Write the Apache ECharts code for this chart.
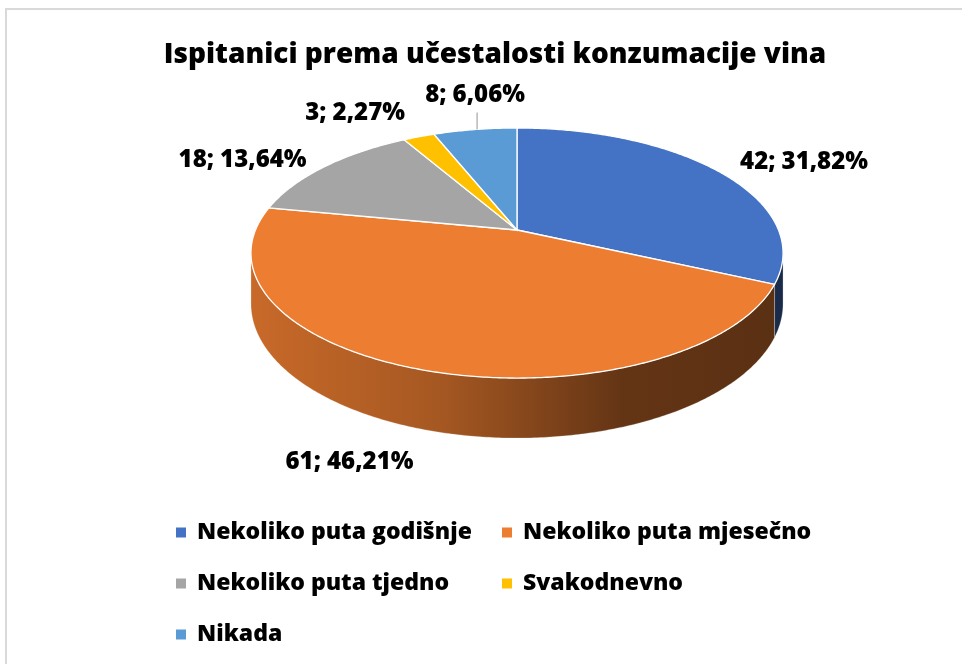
<!DOCTYPE html>
<html>
<head>
<meta charset="utf-8">
<script src="https://cdn.jsdelivr.net/npm/echarts@6/dist/echarts.min.js"></script>
<style>
  html, body { margin: 0; padding: 0; background: #fff; }
  #chart { width: 962px; height: 664px; }
</style>
</head>
<body>
<div id="chart"></div>
<script>
// podaci
const categories = ['Nekoliko puta godišnje', 'Nekoliko puta mjesečno', 'Nekoliko puta tjedno', 'Svakodnevno', 'Nikada'];
const counts = [42, 61, 18, 3, 8];
const colors = ['#4472c4', '#ed7d31', '#a5a5a5', '#ffc000', '#5b9bd5'];

const total = counts.reduce((a, b) => a + b, 0);

// geometrija 3D pite (Excel stil)
const CX = 517, CY = 230, RX = 261.5, RY = 120.8, PERSP = 0.184, DEPTH = 49;
const FONT = '"Open Sans", "Noto Sans", sans-serif';
const labelShift = [
  { dx: 23, dy: -8, align: 'left' },
  { dx: -7, dy: 33, align: 'right' },
  { dx: -18, dy: -7, align: 'right' },
  { dx: -14, dy: -24, align: 'right' },
  { dx: 0, dy: -34, align: 'center', leader: true }
];

function proj(t, r) {
  const u = Math.sin(t), v = -Math.cos(t);
  const s = 1 / (1 - PERSP * r * v);
  return [CX + RX * r * u * s, CY + RY * r * v * s, s];
}

function shade(hex, f) {
  const n = parseInt(hex.slice(1), 16);
  const r = Math.round(((n >> 16) & 255) * f);
  const g = Math.round(((n >> 8) & 255) * f);
  const b = Math.round((n & 255) * f);
  return 'rgb(' + r + ',' + g + ',' + b + ')';
}

const wallMin = Math.PI / 2 + Math.asin(PERSP);
const wallMax = 3 * Math.PI / 2 - Math.asin(PERSP);

function renderSlice(idx) {
  return function (params, api) {
    const val = api.value(0);
    let before = 0;
    for (let j = 0; j < idx; j++) before += counts[j];
    const a0 = before / total * 2 * Math.PI;
    const a1 = (before + val) / total * 2 * Math.PI;
    const color = colors[idx];
    const children = [];

    // bocni zid
    const w0 = Math.max(a0, wallMin), w1 = Math.min(a1, wallMax);
    if (w1 > w0) {
      const n = Math.max(4, Math.ceil((w1 - w0) / 0.01));
      const top = [], bottom = [];
      for (let k = 0; k <= n; k++) {
        const p = proj(w0 + (w1 - w0) * k / n, 1);
        top.push([p[0], p[1]]);
        bottom.push([p[0], p[1] + DEPTH * p[2]]);
      }
      children.push({
        type: 'polygon',
        shape: { points: top.concat(bottom.reverse()) },
        style: {
          fill: new echarts.graphic.LinearGradient(CX - RX, 0, CX + RX, 0, [
            { offset: 0, color: shade(color, 0.84) },
            { offset: 0.35, color: shade(color, 0.7) },
            { offset: 0.7, color: shade(color, 0.42) },
            { offset: 1, color: shade(color, 0.38) }
          ], true),
          stroke: 'rgba(255,255,255,0.5)',
          lineWidth: 0.5
        },
        z2: 1
      });
    }

    // gornja ploha
    const n2 = Math.max(4, Math.ceil((a1 - a0) / 0.01));
    const pts = [[CX, CY]];
    for (let k = 0; k <= n2; k++) {
      const p = proj(a0 + (a1 - a0) * k / n2, 1);
      pts.push([p[0], p[1]]);
    }
    children.push({
      type: 'polygon',
      shape: { points: pts },
      style: { fill: color, stroke: '#fff', lineWidth: 1.3 },
      z2: 2
    });

    // oznaka podatka
    const mid = (a0 + a1) / 2;
    const m = proj(mid, 1);
    let ay = m[1];
    if (-Math.cos(mid) > PERSP) ay += DEPTH * m[2];
    const sh = labelShift[idx];
    const pct = (val / total * 100).toFixed(2).replace('.', ',');
    children.push({
      type: 'text',
      x: m[0] + sh.dx,
      y: ay + sh.dy,
      style: {
        text: val + '; ' + pct + '%',
        align: sh.align,
        verticalAlign: 'middle',
        font: '800 24px ' + FONT,
        fill: '#000'
      },
      z2: 3
    });
    if (sh.leader) {
      children.push({
        type: 'line',
        shape: { x1: m[0] + 2, y1: ay + sh.dy + 17, x2: m[0] + 2, y2: ay },
        style: { stroke: '#a6a6a6', lineWidth: 1.2 },
        z2: 3
      });
    }
    return { type: 'group', children: children };
  };
}

const chart = echarts.init(document.getElementById('chart'));
chart.setOption({
  animation: false,
  title: {
    text: 'Ispitanici prema učestalosti konzumacije vina',
    left: 490,
    top: 36,
    textAlign: 'center',
    textStyle: { fontFamily: FONT, fontSize: 28, fontWeight: 800, color: '#000' }
  },
  legend: {
    data: categories,
    left: 171,
    top: 512,
    width: 700,
    icon: 'rect',
    itemWidth: 10,
    itemHeight: 10,
    itemGap: 20,
    textStyle: {
      fontFamily: FONT, fontSize: 23, fontWeight: 800, color: '#000',
      width: 285, lineHeight: 31, padding: [0, 0, 0, 6]
    }
  },
  graphic: [{
    type: 'rect',
    shape: { x: 6, y: 9, width: 1000, height: 700 },
    style: { fill: 'none', stroke: '#d9d9d9', lineWidth: 2 },
    silent: true
  }],
  series: categories.map((name, i) => ({
    type: 'custom',
    name: name,
    coordinateSystem: 'none',
    silent: true,
    data: [[counts[i]]],
    itemStyle: { color: colors[i] },
    renderItem: renderSlice(i)
  }))
});
</script>
</body>
</html>
